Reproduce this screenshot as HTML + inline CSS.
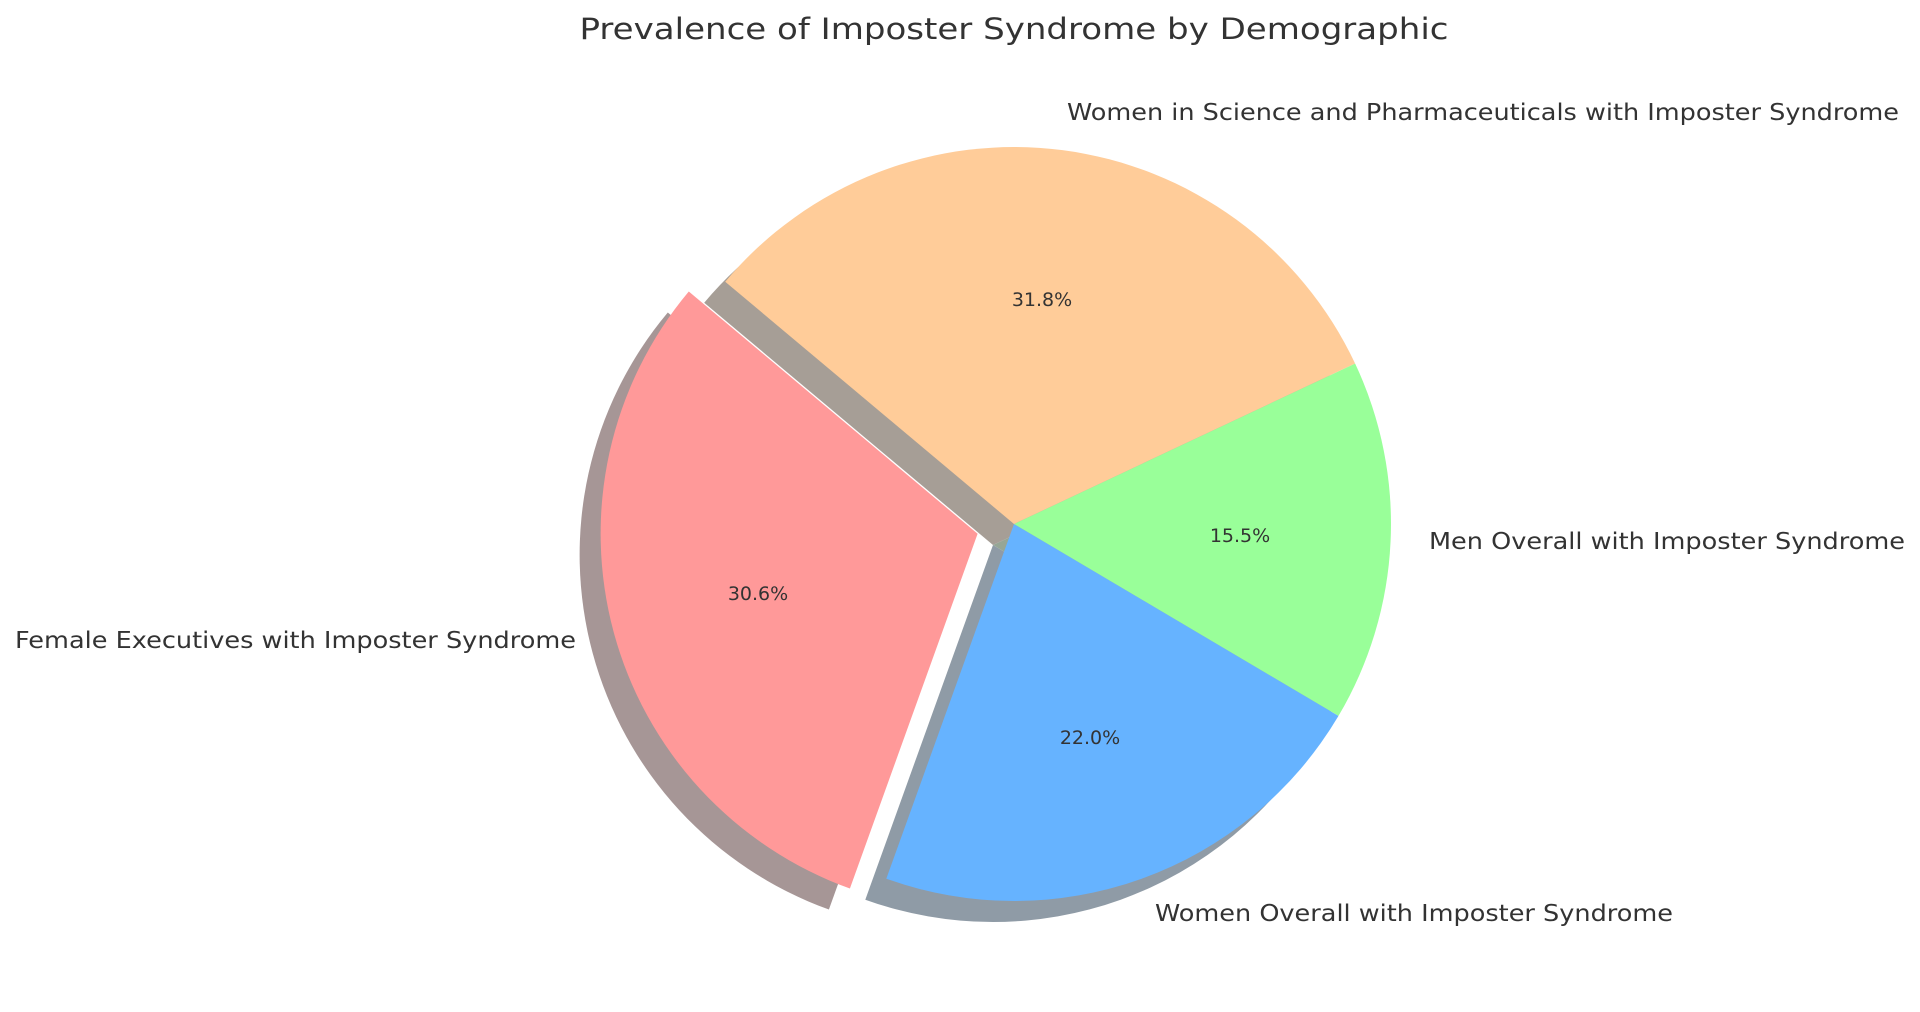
<!DOCTYPE html>
<html><head><meta charset="utf-8"><style>html,body{margin:0;padding:0;background:#fff}svg{display:block}</style></head>
<body>
<svg width="1920" height="1012" viewBox="0 0 1920 1012" xmlns="http://www.w3.org/2000/svg" font-family="'DejaVu Sans','Liberation Sans',sans-serif" fill="#333">
<g transform="translate(-21,21)">
<path d="M977.6,533.8 L688.8,291.5 A377,377 0 0 0 849.9,888.5 Z" fill="#a69696"/>
<path d="M1014,524 L886.3,878.7 A377,377 0 0 0 1338.5,715.9 Z" fill="#8f9ba6"/>
<path d="M1014,524 L1338.5,715.9 A377,377 0 0 0 1355.1,363.5 Z" fill="#96a696"/>
<path d="M1014,524 L1355.1,363.5 A377,377 0 0 0 725.2,281.7 Z" fill="#a69e96"/>
</g>
<path d="M977.6,533.8 L688.8,291.5 A377,377 0 0 0 849.9,888.5 Z" fill="#ff9999"/>
<path d="M1014,524 L886.3,878.7 A377,377 0 0 0 1338.5,715.9 Z" fill="#66b3ff"/>
<path d="M1014,524 L1338.5,715.9 A377,377 0 0 0 1355.1,363.5 Z" fill="#99ff99"/>
<path d="M1014,524 L1355.1,363.5 A377,377 0 0 0 725.2,281.7 Z" fill="#ffcc99"/>
<text x="1014" y="39" font-size="29" text-anchor="middle" textLength="869" lengthAdjust="spacingAndGlyphs">Prevalence of Imposter Syndrome by Demographic</text>
<text x="1067" y="120" font-size="23" textLength="832" lengthAdjust="spacingAndGlyphs">Women in Science and Pharmaceuticals with Imposter Syndrome</text>
<text x="1429" y="549" font-size="23" textLength="476" lengthAdjust="spacingAndGlyphs">Men Overall with Imposter Syndrome</text>
<text x="1155" y="921" font-size="23" textLength="518" lengthAdjust="spacingAndGlyphs">Women Overall with Imposter Syndrome</text>
<text x="576" y="648" font-size="23" text-anchor="end" textLength="561" lengthAdjust="spacingAndGlyphs">Female Executives with Imposter Syndrome</text>
<text x="1042" y="306" font-size="19" text-anchor="middle">31.8%</text>
<text x="758" y="600" font-size="19" text-anchor="middle">30.6%</text>
<text x="1240" y="542" font-size="19" text-anchor="middle">15.5%</text>
<text x="1090" y="744" font-size="19" text-anchor="middle">22.0%</text>
</svg>
</body></html>
